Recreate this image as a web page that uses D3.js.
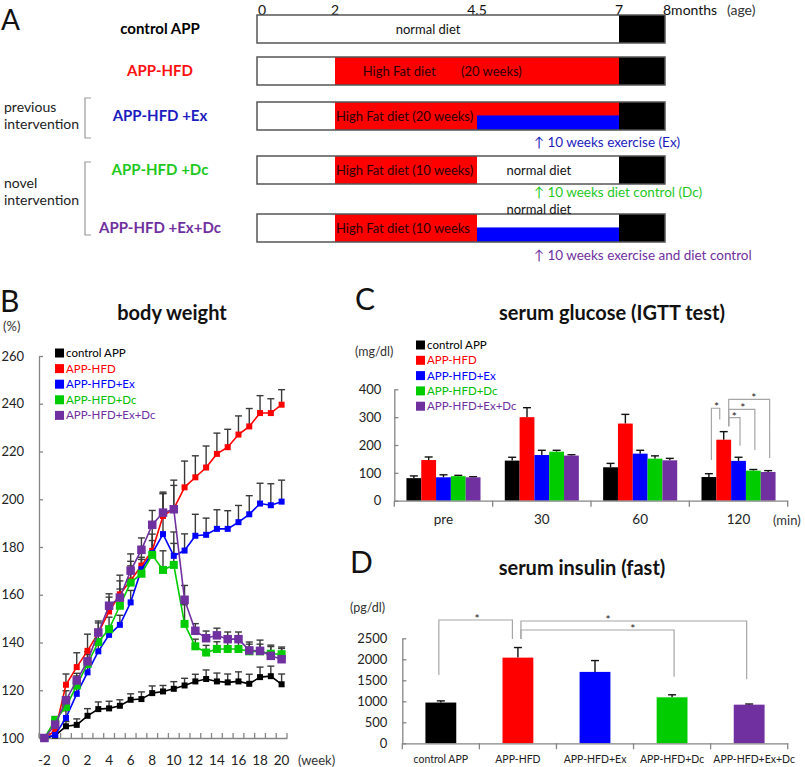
<!DOCTYPE html>
<html><head><meta charset="utf-8">
<script src="https://cdn.jsdelivr.net/npm/d3@7"></script>
<style>body{margin:0;background:#fff}svg{display:block}</style>
</head><body><svg id="c" width="805" height="767"></svg>
<script>
// ================= DATA =================
const groups = ["control APP","APP-HFD","APP-HFD+Ex","APP-HFD+Dc","APP-HFD+Ex+Dc"];
const groupColors = ["#000000","#ff0000","#0000ff","#00cc00","#7030a0"];

// Panel A (timeline, months of age)
const ageTicks = [0, 2, 4.5, 7, 8];
const ageTickLabels = ["0","2","4.5","7","8months"];
const rowLabels = ["control APP","APP-HFD","APP-HFD +Ex","APP-HFD +Dc","APP-HFD +Ex+Dc"];
const rowSegments = [
  [[0,7,"normal"],[7,8,"end"]],
  [[0,2,"normal"],[2,7,"hfd"],[7,8,"end"]],
  [[0,2,"normal"],[2,7,"hfd"],[4.5,7,"ex"],[7,8,"end"]],
  [[0,2,"normal"],[2,4.5,"hfd"],[4.5,7,"normal"],[7,8,"end"]],
  [[0,2,"normal"],[2,4.5,"hfd"],[4.5,7,"normal"],[4.5,7,"ex"],[7,8,"end"]]
];
const barTexts = [
  [0, 3.05, "normal diet", "in"],
  [1, 2.47, "High Fat diet", "in"],
  [1, 4.2, "(20 weeks)", "in"],
  [2, 2.0, "High Fat diet (20 weeks)", "in"],
  [3, 2.0, "High Fat diet (10 weeks)", "in"],
  [3, 5.0, "normal diet", "in"],
  [4, 2.0, "High Fat diet (10 weeks", "in"],
  [4, 5.0, "normal diet", "above"]
];
const notes = [[2, "↑ 10 weeks exercise (Ex)"], [3, "↑ 10 weeks diet control (Dc)"], [4, "↑ 10 weeks exercise and diet control"]];
const noteStart = 5.5;

// Panel B (body weight %, weeks)
const weeks = [-2,-1,0,1,2,3,4,5,6,7,8,9,10,11,12,13,14,15,16,17,18,19,20];
const bwTicks = [100,120,140,160,180,200,220,240,260];
const bwControl = [100,101,104.9,105.5,109.3,112.1,112.4,113.5,116,116.3,118.8,119.5,120.6,122,123.7,124.7,123.7,123.3,123.7,122.7,125.5,125.9,122.5];
const bwHFD     = [100,103,122.3,129.7,136.5,144,153,160.2,166,172.2,178.4,193,196,205,209.2,213.3,219,221.8,227.1,230.5,236.1,236.1,239.6];
const bwEx      = [100,101.3,108.4,118.5,127.5,136.3,143.2,147.4,156.8,170.7,177.4,185.4,176.3,178.5,184.7,185.1,187.6,187.6,190.4,193.7,198.2,197.5,199];
const bwDc      = [100,107.5,113,122,131,140.2,145.6,155.4,165.1,168.8,176.7,170.4,172.5,147.8,138.4,135.8,137.3,137.3,137.3,136.3,136.3,135.3,135.1];
const bwExDc    = [100,105.6,115.8,124.1,132.1,144.2,155.4,158.8,170.1,178.8,189.3,194.4,195.8,157.9,144.9,141.8,143,141.4,141.4,136.7,136.5,134.4,133];
const bwControlErr = [0,1.5,2,2.5,3,3,3,2.5,2.5,3,3,2.5,3,3,3,3.8,3.5,3.5,4,4,4.2,4.2,4.3];
const bwHFDErr     = [0,2,4.5,6,7,5,6,8,8,8,10,10,12,11,9,9,8.7,7.5,7.8,7.5,7.3,6,6.3];
const bwExErr      = [0,1,3,3,3,3,3,4,5,5,8,17,10,7,9,7,8,7.6,7,7.8,8.5,9,9];
const bwDcErr      = [0,1.5,3,4,4,4,5,7,7,6,6,8,9,8,3,3,3,3,3,3,3,3,3];
const bwExDcErr    = [0,2,4,3,4,4,5,7,7,5,6,8,10,6,3,3,3,3,3,3.5,4.5,4.5,4.5];

// Panel C (serum glucose, mg/dl)
const timepoints = ["pre","30","60","120"];
const gluTicks = [0,100,200,300,400];
const gluControl = [81,144,120,85];
const gluHFD     = [146,300,277,219];
const gluEx      = [84,164,169,143];
const gluDc      = [88,176,151,108];
const gluExDc    = [84,162,145,103];
const gluControlErr = [8,12,14,12];
const gluHFDErr     = [11,34,33,29];
const gluExErr      = [9,17,12,13];
const gluDcErr      = [3,5,10,4];
const gluExDcErr    = [2,3,7,5];
// significance at 120 min: [barA, barB, bracket level, leg A end, leg B end, star position (bar units)]
const gluSigTime = "120";
const gluSig = [[0,1,332,146,292,0.51],[1,4,364,267,153,3.04],[1,3,328,267,182,2.29],[1,2,298,267,197,1.72]];

// Panel D (serum insulin, pg/dl)
const insTicks = [0,500,1000,1500,2000,2500];
const insulin    = [970,2040,1700,1095,920];
const insulinErr = [40,240,270,60,15];
const insSig = [[0,1,2936,1626,2483,0.47],[1,4,2912,2483,1524,2.17],[1,3,2698,2483,1586,2.49]];

// ================= DRAW =================
const F = "Lato, 'Open Sans', sans-serif";
const svg = d3.select("#c");
const AX = "#868686";
function txt(x, y, s, o = {}) {
  return svg.append("text").attr("x", x).attr("y", y).text(s)
    .attr("font-family", F).attr("font-size", o.size || 13)
    .attr("font-weight", o.weight || "normal").attr("fill", o.fill || "#111")
    .attr("text-anchor", o.anchor || "start");
}

// ---------- Panel A ----------
txt(1, 30, "A", {size: 28});
const xA = d3.scaleLinear().domain(ageTicks).range([257, 335, 477, 619, 665]);
ageTicks.forEach((t, i) => {
  const first = i === 0, last = i === ageTicks.length - 1;
  txt(first ? xA(t) + 1 : last ? xA(t) - 2 : xA(t), 15, ageTickLabels[i],
      {size: 14, anchor: (first || last) ? "start" : "middle"});
});
txt(727, 15, "(age)", {size: 14, fill: "#333"});

const rowTop = [15, 57, 102, 156, 214], barH = 28;
const segFill = {normal: "#ffffff", hfd: "#ff0000", ex: "#0000ff", end: "#000000"};
const rowLabelColors = ["#000000", "#ff1010", "#1c1cc0", "#1ec81e", "#7030a0"];
rowSegments.forEach((segs, r) => {
  const top = rowTop[r];
  segs.forEach(([a, b, k]) => {
    const half = k === "ex";
    svg.append("rect").attr("x", xA(a)).attr("width", xA(b) - xA(a))
      .attr("y", half ? top + barH * 0.48 : top).attr("height", half ? barH * 0.52 : barH)
      .attr("fill", segFill[k]);
  });
  svg.append("rect").attr("x", xA(0)).attr("y", top).attr("width", xA(8) - xA(0)).attr("height", barH)
    .attr("fill", "none").attr("stroke", "#555").attr("stroke-width", 1.5);
  txt(160, top + barH / 2 + 5, rowLabels[r], {size: 15, weight: "bold", anchor: "middle", fill: rowLabelColors[r]});
});
barTexts.forEach(([r, m, s, pos]) => {
  const onRed = s.startsWith("High") || s.startsWith("(20");
  const y = pos === "in" ? rowTop[r] + barH / 2 + 5 : rowTop[r] - 0.5;
  txt(xA(m) + 1, y, s, {size: 13, fill: onRed ? "#2a0000" : "#111"});
});
notes.forEach(([r, s]) => {
  const off = [0, 0, 17, 13, 18][r];
  txt(xA(noteStart), rowTop[r] + barH + off, s, {size: 13.5, fill: rowLabelColors[r]});
});
// intervention brackets
svg.append("path").attr("d", "M91,98H85V138H91").attr("fill", "none").attr("stroke", "#999").attr("stroke-width", 1.2);
svg.append("path").attr("d", "M91,162H85V235H91").attr("fill", "none").attr("stroke", "#999").attr("stroke-width", 1.2);
txt(4, 112, "previous", {size: 14, fill: "#222"});
txt(4, 129, "intervention", {size: 14, fill: "#222"});
txt(4, 188, "novel", {size: 14, fill: "#222"});
txt(4, 205, "intervention", {size: 14, fill: "#222"});

// ---------- Panel B ----------
txt(0, 312, "B", {size: 30});
txt(3, 331, "(%)", {size: 13, fill: "#333"});
txt(172, 320, "body weight", {size: 20, weight: "bold", anchor: "middle"});
const xB = d3.scaleBand().domain(weeks).range([39, 287]);
const cx = w => xB(w) + xB.bandwidth() / 2;
const yB = d3.scaleLinear().domain([100, 260]).range([738, 356]);

const gyB = svg.append("g").attr("transform", "translate(39,0)")
  .call(d3.axisLeft(yB).tickValues(bwTicks).tickSize(-4).tickSizeOuter(0).tickPadding(15));
const gxB = svg.append("g").attr("transform", "translate(0,738)")
  .call(d3.axisBottom(xB).tickValues(weeks.filter(w => w % 2 === 0)).tickSize(0).tickSizeOuter(0).tickPadding(17));
weeks.concat([null]).forEach((w, i) => {
  const x = 39 + i * xB.step();
  svg.append("line").attr("x1", x).attr("x2", x).attr("y1", 738).attr("y2", 733).attr("stroke", AX).attr("stroke-width", 1.3);
});
txt(298, 765, "(week)", {size: 13, fill: "#333"});

const bwSeries = [bwControl, bwHFD, bwEx, bwDc, bwExDc];
const bwErrs = [bwControlErr, bwHFDErr, bwExErr, bwDcErr, bwExDcErr];
const mSize = [6, 6, 6, 8, 8.5];
bwSeries.forEach((vals, s) => {
  vals.forEach((v, i) => {
    const e = bwErrs[s][i];
    if (!e) return;
    const x = cx(weeks[i]);
    svg.append("line").attr("x1", x).attr("x2", x).attr("y1", yB(v)).attr("y2", yB(v + e)).attr("stroke", "#3a3a3a").attr("stroke-width", 1.4);
    svg.append("line").attr("x1", x - 3.5).attr("x2", x + 3.5).attr("y1", yB(v + e)).attr("y2", yB(v + e)).attr("stroke", "#3a3a3a").attr("stroke-width", 1.4);
  });
});
const lineB = d3.line().x((d, i) => cx(weeks[i])).y(d => yB(d));
bwSeries.forEach((vals, s) => {
  svg.append("path").datum(vals).attr("d", lineB).attr("fill", "none")
    .attr("stroke", groupColors[s]).attr("stroke-width", 1.6);
  svg.append("g").selectAll("rect").data(vals).join("rect")
    .attr("x", (d, i) => cx(weeks[i]) - mSize[s] / 2).attr("y", d => yB(d) - mSize[s] / 2)
    .attr("width", mSize[s]).attr("height", mSize[s]).attr("fill", groupColors[s]);
});
groups.forEach((g, i) => {
  const y = 353 + i * 15.6;
  svg.append("rect").attr("x", 55).attr("y", y - 4.5).attr("width", 9).attr("height", 9).attr("fill", groupColors[i]);
  txt(66, y + 4, g, {size: 11.5, fill: groupColors[i] === "#00cc00" ? "#00c000" : groupColors[i]});
});

// ---------- Panel C ----------
txt(355, 310, "C", {size: 30});
txt(355, 356, "(mg/dl)", {size: 12.5, fill: "#333"});
txt(612, 320, "serum glucose (IGTT test)", {size: 20, weight: "bold", anchor: "middle"});
const xC = d3.scaleBand().domain(timepoints).range([394.3, 787.7]);
const xCin = d3.scaleBand().domain(d3.range(5)).range([0, xC.bandwidth()]).paddingOuter(0.82);
const yC = d3.scaleLinear().domain([0, 400]).range([500.7, 389.3]);
const gluSeries = [gluControl, gluHFD, gluEx, gluDc, gluExDc];
const gluErrs = [gluControlErr, gluHFDErr, gluExErr, gluDcErr, gluExDcErr];
const gyC = svg.append("g").attr("transform", "translate(394.3,0)")
  .call(d3.axisLeft(yC).tickValues(gluTicks).tickSize(-4).tickSizeOuter(0).tickPadding(13));
gluSeries.forEach((vals, s) => {
  vals.forEach((v, i) => {
    const x = xC(timepoints[i]) + xCin(s), w = xCin.bandwidth(), xc = x + w / 2;
    const e = gluErrs[s][i];
    svg.append("line").attr("x1", xc).attr("x2", xc).attr("y1", yC(v)).attr("y2", yC(v + e)).attr("stroke", "#111").attr("stroke-width", 1.4);
    svg.append("line").attr("x1", xc - 4).attr("x2", xc + 4).attr("y1", yC(v + e)).attr("y2", yC(v + e)).attr("stroke", "#111").attr("stroke-width", 1.4);
    svg.append("rect").attr("x", x).attr("y", yC(v)).attr("width", w).attr("height", yC(0) - yC(v)).attr("fill", groupColors[s]);
  });
});
const gxC = svg.append("g").attr("transform", "translate(0,500.7)")
  .call(d3.axisBottom(xC).tickSize(0).tickSizeOuter(0).tickPadding(14));
timepoints.concat([null]).forEach((t, i) => {
  const x = 394.3 + i * xC.step();
  svg.append("line").attr("x1", x).attr("x2", x).attr("y1", 500.7).attr("y2", 506.7).attr("stroke", AX).attr("stroke-width", 1.3);
});
txt(773, 525, "(min)", {size: 13, fill: "#333"});
const barCx = i => xC(gluSigTime) + xCin(i) + xCin.bandwidth() / 2;
gluSig.forEach(([a, b, lev, la, lb, st]) => {
  const xa = barCx(a) + (a === 1 ? 5 : 2.5), xb = barCx(b) + (b === 1 ? -4 : 1.5);
  svg.append("path").attr("d", `M${xa},${yC(la)}V${yC(lev)}H${xb}V${yC(lb)}`)
    .attr("fill", "none").attr("stroke", "#a6a6a6").attr("stroke-width", 1.2);
  txt(barCx(0) + st * xCin.step(), yC(lev) + 3, "*", {size: 12, anchor: "middle", fill: "#222"});
});
groups.forEach((g, i) => {
  const y = 345 + i * 15.3;
  svg.append("rect").attr("x", 416).attr("y", y - 4.5).attr("width", 9).attr("height", 9).attr("fill", groupColors[i]);
  txt(427, y + 4, g, {size: 11.5, fill: groupColors[i] === "#00cc00" ? "#00c000" : groupColors[i]});
});

// ---------- Panel D ----------
txt(350, 573, "D", {size: 30});
txt(350, 612, "(pg/dl)", {size: 12.5, fill: "#333"});
txt(582, 575, "serum insulin (fast)", {size: 20, weight: "bold", anchor: "middle"});
const xD = d3.scaleBand().domain(groups).range([402.3, 787.7]).paddingInner(0.6).paddingOuter(0.3);
const yD = d3.scaleLinear().domain([0, 2500]).range([743.3, 638.3]);
const gyD = svg.append("g").attr("transform", "translate(402.3,0)")
  .call(d3.axisLeft(yD).tickValues(insTicks).tickFormat(d3.format("d")).tickSize(-4).tickSizeOuter(0).tickPadding(15));
insulin.forEach((v, i) => {
  const x = xD(groups[i]), w = xD.bandwidth(), xc = x + w / 2, e = insulinErr[i];
  svg.append("line").attr("x1", xc).attr("x2", xc).attr("y1", yD(v)).attr("y2", yD(v + e)).attr("stroke", "#111").attr("stroke-width", 1.4);
  svg.append("line").attr("x1", xc - 4).attr("x2", xc + 4).attr("y1", yD(v + e)).attr("y2", yD(v + e)).attr("stroke", "#111").attr("stroke-width", 1.4);
  svg.append("rect").attr("x", x).attr("y", yD(v)).attr("width", w).attr("height", yD(0) - yD(v)).attr("fill", groupColors[i]);
});
const gxD = svg.append("g").attr("transform", "translate(0,743.3)")
  .call(d3.axisBottom(xD).tickSize(0).tickSizeOuter(0).tickPadding(12));
groups.concat([null]).forEach((g, i) => {
  const x = 402.3 + i * xD.step();
  svg.append("line").attr("x1", x).attr("x2", x).attr("y1", 743.3).attr("y2", 749.3).attr("stroke", AX).attr("stroke-width", 1.3);
});
const catCx = i => xD(groups[i]) + xD.bandwidth() / 2;
insSig.forEach(([a, b, lev, la, lb, st]) => {
  const xa = catCx(a) + (a === 1 ? 3 : -2), xb = catCx(b) + (b === 1 ? -5.5 : (b === 4 ? -2.5 : 2));
  svg.append("path").attr("d", `M${xa},${yD(la)}V${yD(lev)}H${xb}V${yD(lb)}`)
    .attr("fill", "none").attr("stroke", "#a6a6a6").attr("stroke-width", 1.2);
  txt(catCx(0) + st * xD.step(), yD(lev) + 3, "*", {size: 12, anchor: "middle", fill: "#222"});
});

[[gyB, 13], [gxB, 13.5], [gyC, 13], [gxC, 13.5], [gyD, 13], [gxD, 10.5]].forEach(([g, fs]) => {
  g.select(".domain").attr("stroke", AX).attr("stroke-width", 1.3);
  g.selectAll(".tick line").attr("stroke", AX).attr("stroke-width", 1.3);
  g.selectAll(".tick text").attr("fill", "#222").attr("font-family", F).attr("font-size", fs);
});
// keep the last long category label inside the page, as in the reference
gxD.selectAll(".tick text").filter(d => d === groups[4]).attr("dx", 5);
</script></body></html>
